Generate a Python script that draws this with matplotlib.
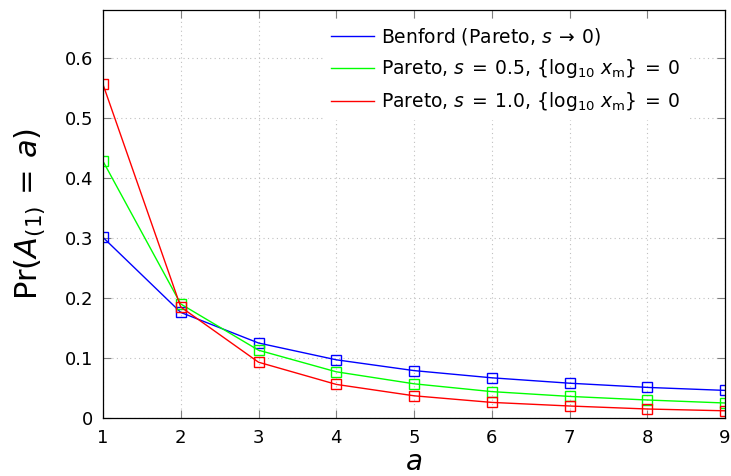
import matplotlib
matplotlib.use("Agg")
import matplotlib.pyplot as plt

plt.rcParams['font.family'] = ['DejaVu Sans']
plt.rcParams['mathtext.fontset'] = 'dejavusans'

# first significant digit and its probability under each model
digits = [1, 2, 3, 4, 5, 6, 7, 8, 9]
benford = [0.301, 0.176, 0.125, 0.097, 0.079, 0.067, 0.058, 0.051, 0.046]
pareto_05 = [0.428, 0.190, 0.113, 0.077, 0.057, 0.044, 0.036, 0.030, 0.025]
pareto_10 = [0.556, 0.185, 0.093, 0.056, 0.037, 0.026, 0.020, 0.015, 0.012]

labels = [
    r'Benford (Pareto, $s\:\to\:0$)',
    r'Pareto, $s\:=\:0.5$, $\{\log_{10}\, x_{\mathrm{m}}\}\:=\:0$',
    r'Pareto, $s\:=\:1.0$, $\{\log_{10}\, x_{\mathrm{m}}\}\:=\:0$',
]
colors = ['#0000ff', '#00ff00', '#ff0000']

fig = plt.figure(figsize=(7.31, 4.76), dpi=100)
ax = fig.add_axes([103 / 731, 58 / 476, 622 / 731, 408 / 476])

for vals, lab, col in zip([benford, pareto_05, pareto_10], labels, colors):
    ax.plot(digits, vals, color=col, lw=1.0, marker='s', ms=7,
            mfc='none', mec=col, mew=1.0, label=lab)

ax.set_xlim(1, 9)
ax.set_ylim(0, 0.68)
ax.set_xticks(digits)
ax.set_yticks([0, 0.1, 0.2, 0.3, 0.4, 0.5, 0.6])
ax.set_yticklabels(['0', '0.1', '0.2', '0.3', '0.4', '0.5', '0.6'])

ax.grid(True, linestyle=(0, (1, 3)), color='#c0c0c0', lw=0.8)
ax.tick_params(direction='in', length=6, width=0.8, color='#808080',
               top=True, right=True, labelsize=13)
ax.tick_params(axis='x', pad=8)
ax.tick_params(axis='y', pad=7)
for sp in ax.spines.values():
    sp.set_linewidth(0.9)

ax.set_xlabel(r'$a$', fontsize=20, labelpad=1)
ax.set_ylabel(r'$\mathrm{Pr}(A_{(1)}\,=\,a)$', fontsize=22, labelpad=12)

leg = ax.legend(loc='upper right', bbox_to_anchor=(0.953, 0.998), fontsize=13.5,
                frameon=True, framealpha=1.0, edgecolor='white',
                handlelength=2.3, handletextpad=0.37, labelspacing=0.55,
                borderpad=0.3, fancybox=False)
for h in leg.get_lines():
    h.set_marker('')

fig.savefig('out.png', dpi=100)
